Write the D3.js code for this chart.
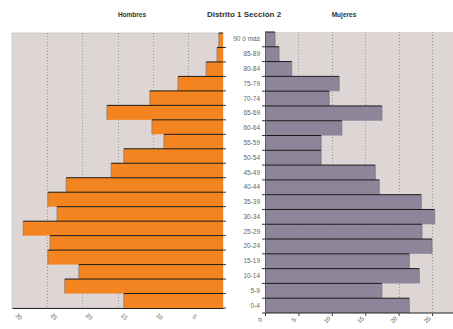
<!DOCTYPE html>
<html>
<head>
<meta charset="utf-8">
<script src="https://d3js.org/d3.v7.min.js"></script>
<style>
body { margin: 0; background: #fff; }
text { font-family: "Liberation Sans", Arial, sans-serif; }
</style>
</head>
<body>
<svg width="453" height="329"></svg>
<script>
// age groups, top to bottom
var ages = ["90 ó más", "85-89", "80-84", "75-79", "70-74", "65-69", "60-64", "55-59",
  "50-54", "45-49", "40-44", "35-39", "30-34", "25-29", "20-24", "15-19", "10-14", "5-9", "0-4"];

var hombres = [0.6, 0.85, 2.4, 6.4, 10.4, 16.5, 10.1, 8.4, 14.1, 15.9, 22.3, 24.9, 23.6, 28.4, 24.6, 24.9, 20.5, 22.5, 14.1];
var mujeres = [1.5, 2.1, 4.0, 11.1, 9.6, 17.5, 11.5, 8.4, 8.4, 16.5, 17.1, 23.4, 25.4, 23.5, 25.0, 21.6, 23.1, 17.5, 21.6];

var leftTicks = [30, 25, 20, 15, 10, 5];
var rightTicks = [0, 5, 10, 15, 20, 25];
var gridLeft = [5, 10, 15, 20, 25];
var gridRight = [5, 10, 15, 20, 25];

var svg = d3.select("svg");

var xL = d3.scaleLinear().domain([0, 30]).range([223, 12]);
var xR = d3.scaleLinear().domain([0, 25]).range([265, 432]);
var yL = d3.scaleBand().domain(ages).range([33, 308]);
var yR = d3.scaleBand().domain(ages).range([32, 313]);

// plot backgrounds
svg.append("rect").attr("x", xL(30)).attr("y", 33)
  .attr("width", xL(0) - xL(30)).attr("height", 275)
  .attr("fill", "#ddd6d4").attr("stroke", "#bdb6b4").attr("stroke-width", 0.6);
svg.append("rect").attr("x", xR(0)).attr("y", 32)
  .attr("width", 453 - xR(0)).attr("height", 281)
  .attr("fill", "#ddd6d4");

// dotted grid
svg.append("g").selectAll("line").data(gridLeft).enter().append("line")
  .attr("x1", function (d) { return Math.round(xL(d)) + 0.5; })
  .attr("x2", function (d) { return Math.round(xL(d)) + 0.5; })
  .attr("y1", 33).attr("y2", 308)
  .attr("stroke", "#999").attr("stroke-width", 1).attr("stroke-dasharray", "1,2");
svg.append("g").selectAll("line").data(gridRight).enter().append("line")
  .attr("x1", function (d) { return Math.round(xR(d)) + 0.5; })
  .attr("x2", function (d) { return Math.round(xR(d)) + 0.5; })
  .attr("y1", 32).attr("y2", 313)
  .attr("stroke", "#999").attr("stroke-width", 1).attr("stroke-dasharray", "1,2");

// hombres bars
var gl = svg.append("g");
gl.selectAll("rect").data(hombres).enter().append("rect")
  .attr("x", function (d) { return xL(d); })
  .attr("y", function (d, i) { return yL(ages[i]); })
  .attr("width", function (d) { return xL(0) - xL(d); })
  .attr("height", yL.bandwidth())
  .attr("fill", "#f48420");
gl.selectAll(".side").data(hombres).enter().append("line")
  .attr("x1", function (d) { return xL(d); })
  .attr("x2", function (d) { return xL(d); })
  .attr("y1", function (d, i) { return yL(ages[i]); })
  .attr("y2", function (d, i) { return yL(ages[i]) + yL.bandwidth(); })
  .attr("stroke", "#8a7a70").attr("stroke-width", 0.8);
gl.selectAll(".top").data(hombres).enter().append("line")
  .attr("x1", function (d) { return xL(d); })
  .attr("x2", xL(0))
  .attr("y1", function (d, i) { return yL(ages[i]); })
  .attr("y2", function (d, i) { return yL(ages[i]); })
  .attr("stroke", "#1a1a1a").attr("stroke-width", 1);

// mujeres bars
var gr = svg.append("g");
gr.selectAll("rect").data(mujeres).enter().append("rect")
  .attr("x", xR(0))
  .attr("y", function (d, i) { return yR(ages[i]); })
  .attr("width", function (d) { return xR(d) - xR(0); })
  .attr("height", yR.bandwidth())
  .attr("fill", "#8d8599");
gr.selectAll(".side").data(mujeres).enter().append("line")
  .attr("x1", function (d) { return xR(d); })
  .attr("x2", function (d) { return xR(d); })
  .attr("y1", function (d, i) { return yR(ages[i]); })
  .attr("y2", function (d, i) { return yR(ages[i]) + yR.bandwidth(); })
  .attr("stroke", "#7a7480").attr("stroke-width", 0.8);
gr.selectAll(".top").data(mujeres).enter().append("line")
  .attr("x1", xR(0))
  .attr("x2", function (d) { return xR(d); })
  .attr("y1", function (d, i) { return yR(ages[i]); })
  .attr("y2", function (d, i) { return yR(ages[i]); })
  .attr("stroke", "#1a1a1a").attr("stroke-width", 1);

// bottom axes
var axL = svg.append("g").attr("transform", "translate(0,308)")
  .call(d3.axisBottom(xL).tickValues(leftTicks).tickSize(0).tickFormat(d3.format("d")));
axL.select(".domain").attr("stroke", "#222").attr("stroke-width", 1.2);
axL.selectAll("text").attr("font-size", 6).attr("fill", "#555")
  .attr("transform", "translate(7,8) rotate(45)").attr("dy", 0).attr("text-anchor", "middle");

var axR = svg.append("g").attr("transform", "translate(0,313)")
  .call(d3.axisBottom(xR).tickValues(rightTicks).tickSize(3).tickFormat(d3.format("d")));
axR.select(".domain").attr("stroke", "#222").attr("stroke-width", 1.2)
  .attr("d", "M" + xR(0) + ",0H453");
axR.selectAll("line").attr("stroke", "#444");
axR.selectAll("text").attr("font-size", 6).attr("fill", "#555")
  .attr("transform", "translate(-8,4) rotate(-45)").attr("dy", 0).attr("text-anchor", "middle");

// category ticks at the inner edges
svg.append("g").selectAll("line").data(ages).enter().append("line")
  .attr("x1", 223).attr("x2", 226)
  .attr("y1", function (d) { return yL(d) + yL.bandwidth(); })
  .attr("y2", function (d) { return yL(d) + yL.bandwidth(); })
  .attr("stroke", "#333");
svg.append("g").selectAll("line").data(ages).enter().append("line")
  .attr("x1", 262).attr("x2", 265)
  .attr("y1", function (d) { return yR(d) + yR.bandwidth(); })
  .attr("y2", function (d) { return yR(d) + yR.bandwidth(); })
  .attr("stroke", "#333");
svg.append("line").attr("x1", 265.5).attr("x2", 265.5).attr("y1", 32).attr("y2", 313)
  .attr("stroke", "#555").attr("stroke-width", 0.8);

// age labels
svg.append("g").selectAll("text").data(ages).enter().append("text")
  .attr("x", 260)
  .attr("y", function (d) { return yR(d) + yR.bandwidth() / 2 + 2; })
  .attr("text-anchor", "end")
  .attr("font-size", 6.5).attr("fill", "#666")
  .text(function (d) { return d; });

// titles
svg.append("text").attr("x", 244).attr("y", 17).attr("text-anchor", "middle")
  .attr("font-size", 8).attr("font-weight", "bold").attr("fill", "#333")
  .text("Distrito 1 Sección 2");
svg.append("text").attr("x", 132).attr("y", 17).attr("text-anchor", "middle")
  .attr("font-size", 6.5).attr("font-weight", "bold").attr("fill", "#333")
  .text("Hombres");
svg.append("text").attr("x", 344).attr("y", 17).attr("text-anchor", "middle")
  .attr("font-size", 6.5).attr("font-weight", "bold").attr("fill", "#333")
  .text("Mujeres");
</script>
</body>
</html>
